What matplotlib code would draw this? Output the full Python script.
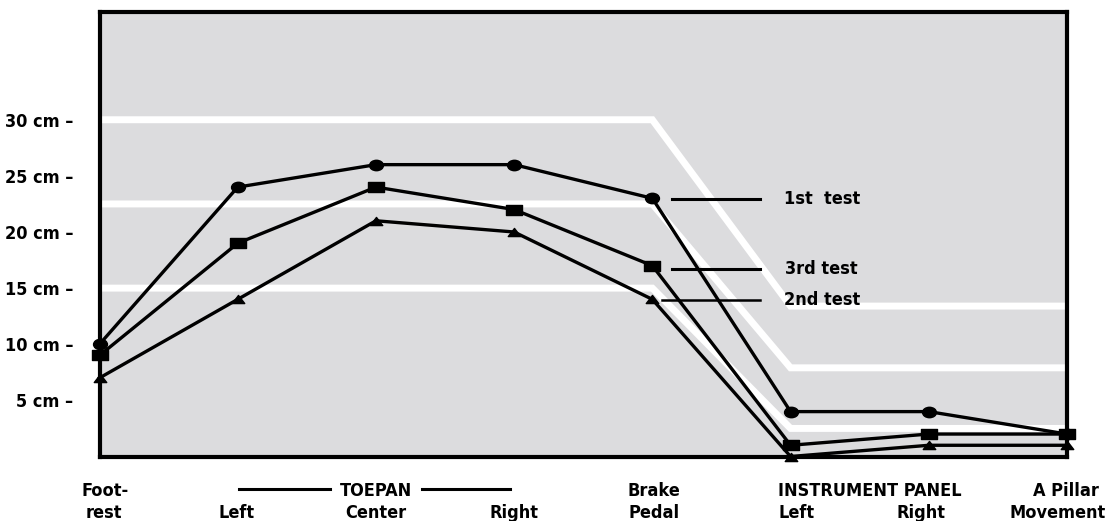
import matplotlib
matplotlib.use("Agg")
import matplotlib.pyplot as plt
import matplotlib.font_manager as fm
import numpy as np
from matplotlib.path import Path
from matplotlib.transforms import blended_transform_factory

# look for a narrow bold face, the original uses a condensed grotesque
narrow = [f for f in fm.fontManager.ttflist
          if f.stretch in ('condensed', 'semi-condensed', 'extra-condensed')
          or 'Narrow' in f.name or 'Condensed' in f.name]
if narrow:
    plt.rcParams['font.family'] = [narrow[0].name, 'DejaVu Sans']
    plt.rcParams['font.stretch'] = 'condensed'
else:
    plt.rcParams['font.family'] = ['Liberation Sans', 'DejaVu Sans']
plt.rcParams['font.weight'] = 'bold'

# measurement points along the car interior (x = 0..7)
points = ["Foot-rest", "Toepan Left", "Toepan Center", "Toepan Right",
          "Brake Pedal", "Instrument Panel Left", "Instrument Panel Right",
          "A Pillar Movement"]

# intrusion in cm
first_test = [10, 24, 26, 26, 23, 4, 4, 2]
third_test = [9, 19, 24, 22, 17, 1, 2, 2]
second_test = [7, 14, 21, 20, 14, 0, 1, 1]

# white rating band boundaries (x, cm)
band_x = [0, 4, 5, 7]
band_top = [30, 30, 13.4, 13.4]
band_mid = [22.5, 22.5, 7.9, 7.9]
band_low = [15, 15, 2.5, 2.5]

ytick_vals = [5, 10, 15, 20, 25, 30]
ytick_labels = ["%d cm \u2013" % v for v in ytick_vals]

FS = 13
BG = '#dcdcde'


def squashed(path, sy):
    v = path.vertices.copy()
    v[:, 1] *= sy
    return Path(v, path.codes)


circle_m = squashed(Path.unit_circle(), 0.75)
square_m = Path([(-1, -0.7), (1, -0.7), (1, 0.7), (-1, 0.7), (-1, -0.7)],
                [Path.MOVETO, Path.LINETO, Path.LINETO, Path.LINETO, Path.CLOSEPOLY])
tri_m = Path([(-1, -0.65), (1, -0.65), (0, 0.65), (-1, -0.65)],
             [Path.MOVETO, Path.LINETO, Path.LINETO, Path.CLOSEPOLY])

fig = plt.figure(figsize=(11.12, 5.21), dpi=100)
ax = fig.add_axes([0.0895, 0.1238, 0.9595 - 0.0895, 0.977 - 0.1238])
ax.set_facecolor(BG)

x = np.arange(len(points))

for band in (band_top, band_mid, band_low):
    ax.plot(band_x, band, color='white', lw=5, solid_joinstyle='miter', zorder=1)

ax.plot(x, second_test, color='black', lw=2.4, marker=tri_m, ms=9,
        clip_on=False, zorder=3)
ax.plot(x, third_test, color='black', lw=2.4, marker=square_m, ms=11,
        clip_on=False, zorder=3)
ax.plot(x, first_test, color='black', lw=2.4, marker=circle_m, ms=10,
        clip_on=False, zorder=3)

# inline labels
ax.plot([4.14, 4.78], [22.9, 22.9], color='black', lw=2.2, zorder=2)
ax.plot([4.14, 4.78], [16.7, 16.7], color='black', lw=2.2, zorder=2)
ax.plot([4.07, 4.78], [13.9, 13.9], color='black', lw=1.8, zorder=2)
ax.text(4.95, 22.9, "1st  test", fontsize=FS, va='center', ha='left')
ax.text(4.96, 16.7, "3rd test", fontsize=FS, va='center', ha='left')
ax.text(4.95, 13.9, "2nd test", fontsize=FS, va='center', ha='left')

ax.set_xlim(0, 7)
ax.set_ylim(0, 39.6)
ax.set_xticks([])
ax.set_yticks(ytick_vals)
ax.set_yticklabels(ytick_labels, fontsize=FS, fontweight='bold')
ax.tick_params(axis='y', length=0, pad=19)
for s in ax.spines.values():
    s.set_linewidth(3)
    s.set_color('black')
    s.set_zorder(4)

# category labels below the axis
tr = blended_transform_factory(ax.transData, ax.transAxes)
row1 = -0.088
row2 = -0.138
ax.text(0.04, row1, "Foot-", transform=tr, ha='center', fontsize=FS)
ax.text(0.03, row2, "rest", transform=tr, ha='center', fontsize=FS)
ax.text(0.99, row2, "Left", transform=tr, ha='center', fontsize=FS)
ax.text(2, row1, "TOEPAN", transform=tr, ha='center', fontsize=FS)
ax.text(2, row2, "Center", transform=tr, ha='center', fontsize=FS)
ax.text(3, row2, "Right", transform=tr, ha='center', fontsize=FS)
ax.text(4.01, row1, "Brake", transform=tr, ha='center', fontsize=FS)
ax.text(4.01, row2, "Pedal", transform=tr, ha='center', fontsize=FS)
ax.text(4.91, row1, "INSTRUMENT PANEL", transform=tr, ha='left', fontsize=FS)
ax.text(4.91, row2, "Left", transform=tr, ha='left', fontsize=FS)
ax.text(6.12, row2, "Right", transform=tr, ha='right', fontsize=FS)
ax.text(6.99, row1, "A Pillar", transform=tr, ha='center', fontsize=FS)
ax.text(7.28, row2, "Movement", transform=tr, ha='right', fontsize=FS)
ax.plot([1.01, 1.67], [-0.073, -0.073], transform=tr, color='black', lw=2.2, clip_on=False)
ax.plot([2.33, 2.97], [-0.073, -0.073], transform=tr, color='black', lw=2.2, clip_on=False)

fig.savefig("out.png", dpi=100)
